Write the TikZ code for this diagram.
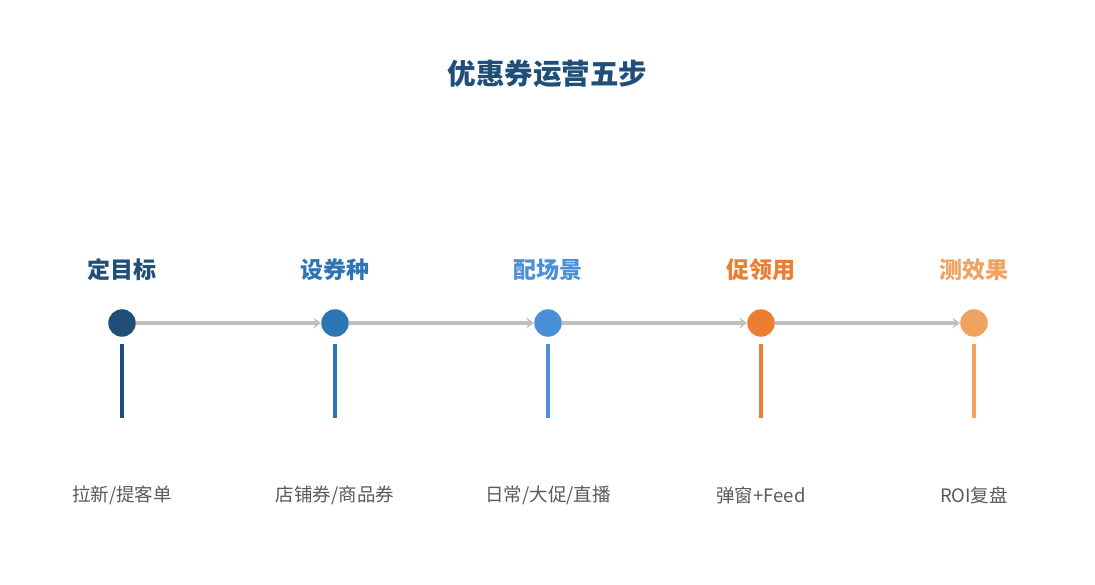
\documentclass[tikz,border=0pt]{standalone}
\usepackage{fontspec}
\setmainfont{Noto Sans CJK SC}
\usetikzlibrary{arrows.meta}
\definecolor{cA}{HTML}{1F4E79}
\definecolor{cB}{HTML}{2E75B6}
\definecolor{cC}{HTML}{4A90D9}
\definecolor{cD}{HTML}{ED7D31}
\definecolor{cE}{HTML}{F0A35E}
\definecolor{linegray}{HTML}{BFBFBF}
\definecolor{txtgray}{HTML}{595959}
\begin{document}
\begin{tikzpicture}[x=1pt,y=-1pt,
  dot/.style={circle,fill=#1,minimum size=27.5pt,inner sep=0pt},
  steplabel/.style={text=#1,font=\fontsize{23}{26}\selectfont\bfseries,inner sep=0pt},
  desc/.style={text=txtgray,font=\fontsize{18.5}{21}\selectfont,inner sep=0pt},
  flow/.style={draw=linegray,line width=4pt,-{Stealth[length=8pt,width=11pt,inset=3.5pt]}},
  stem/.style={draw=#1,line width=4pt}]
\useasboundingbox (0,0) rectangle (1095,585);
\node[text=cA,font=\fontsize{28.5}{32}\selectfont\bfseries,inner sep=0pt] (title) at (547.5,74) {优惠券运营五步};
\foreach \i/\x/\c/\lab/\d in {1/122/cA/定目标/{拉新/提客单},2/335/cB/设券种/{店铺券/商品券},3/548/cC/配场景/{日常/大促/直播},4/761/cD/促领用/{弹窗+Feed},5/974/cE/测效果/{ROI复盘}}{
  \node[dot=\c] (d\i) at (\x,323) {};
  \node[steplabel=\c] (s\i) at (\x,270) {\lab};
  \coordinate (t\i) at (\x,344);
  \coordinate (b\i) at (\x,418);
  \draw[stem=\c] (t\i) -- (b\i);
  \node[desc] (l\i) at (\x,495) {\d};
}
\draw[flow] (d1) -- (d2);
\draw[flow] (d2) -- (d3);
\draw[flow] (d3) -- (d4);
\draw[flow] (d4) -- (d5);
\end{tikzpicture}
\end{document}
